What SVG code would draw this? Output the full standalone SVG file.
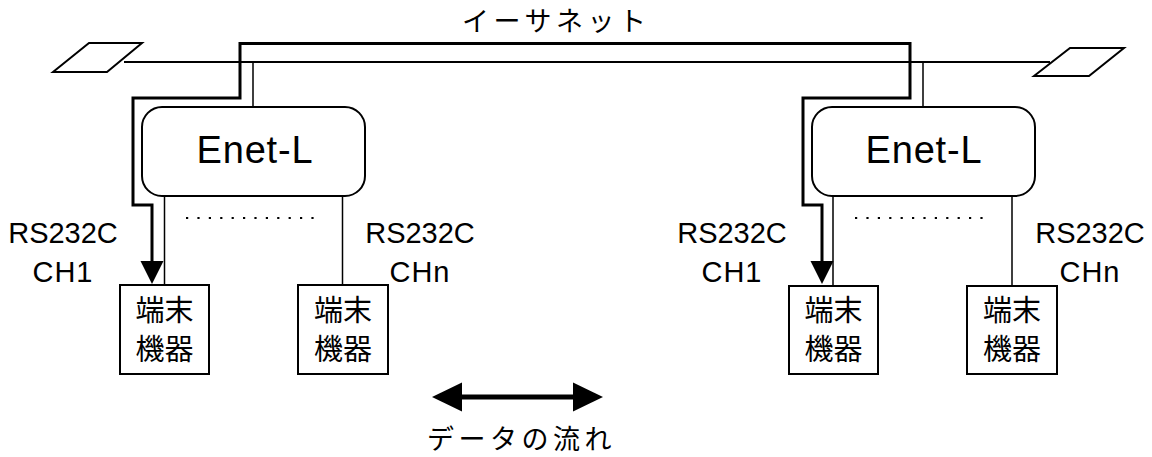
<svg xmlns="http://www.w3.org/2000/svg" width="1152" height="457" viewBox="0 0 1152 457">
<style>
.thin{fill:none;stroke:#000;stroke-width:1.5}
.net{fill:none;stroke:#000;stroke-width:2}
.thick{fill:none;stroke:#000;stroke-width:3;stroke-linejoin:miter}
.box{fill:#fff;stroke:#000;stroke-width:2}
.dots{fill:none;stroke:#000;stroke-width:2.2;stroke-dasharray:2.2 9.2}
.lat{font-family:"Liberation Sans",Arial,sans-serif;fill:#000}
.jp{font-family:"Noto Sans CJK JP","Noto Sans",sans-serif;fill:#000}
.term{font-size:29px;text-anchor:middle}
.head{fill:#000}
</style>
<rect width="1152" height="457" fill="#fff"/>
<g id="connectors">
<path class="net" d="M124,62 H1050"/>
<path class="thin" d="M253,62 V107 M923,62 V107"/>
<path class="thin" d="M164.5,196 V285 M342.5,196 V285 M833,196 V285 M1012,196 V285"/>
<path class="dots" d="M186,218 H318"/>
<path class="dots" d="M855,218 H987"/>
<path class="thick" d="M152,263 V205 H133 V98 H240 V43.5 H910 V98 H803 V205 H822 V263"/>
<path class="head" d="M152,284 L140.5,261 L163.5,261 Z"/>
<path class="head" d="M822,284 L810.5,261 L833.5,261 Z"/>
<path d="M456,397 H579" stroke="#000" stroke-width="5"/>
<path class="head" d="M432,397 L462,382.5 L462,411.5 Z"/>
<path class="head" d="M603,397 L573,382.5 L573,411.5 Z"/>
</g>
<g id="ether-left"><path class="net" fill="#fff" d="M53,72 L89,43 L142,43 L107,72 Z"/></g>
<g id="ether-right"><path class="net" fill="#fff" d="M1034,76 L1070,48 L1124,48 L1089,76 Z"/></g>
<g id="label-ethernet"><text class="jp" x="462" y="31" font-size="27" letter-spacing="4.5">イーサネット</text></g>
<g id="enet-left">
<rect class="box" x="142" y="107" width="223" height="89" rx="20"/>
<text class="lat" x="255" y="163" font-size="38" text-anchor="middle" letter-spacing="0.8">Enet-L</text>
</g>
<g id="enet-right">
<rect class="box" x="812" y="107" width="223" height="89" rx="20"/>
<text class="lat" x="924" y="163" font-size="38" text-anchor="middle" letter-spacing="0.8">Enet-L</text>
</g>
<g id="labels-ch" class="lat" font-size="29" text-anchor="middle">
<text x="63" y="243">RS232C</text><text x="63" y="282" letter-spacing="1">CH1</text>
<text x="420" y="243">RS232C</text><text x="420" y="282" letter-spacing="1">CHn</text>
<text x="732" y="243">RS232C</text><text x="732" y="282" letter-spacing="1">CH1</text>
<text x="1090" y="243">RS232C</text><text x="1090" y="282" letter-spacing="1">CHn</text>
</g>
<g id="term-l1"><rect class="box" x="120" y="285" width="89" height="89"/><text class="jp term" x="164.5" y="321">端末<tspan x="164.5" dy="39">機器</tspan></text></g>
<g id="term-ln"><rect class="box" x="298" y="285" width="90" height="89"/><text class="jp term" x="343" y="321">端末<tspan x="343" dy="39">機器</tspan></text></g>
<g id="term-r1"><rect class="box" x="789" y="286" width="89" height="88"/><text class="jp term" x="833.5" y="321">端末<tspan x="833.5" dy="39">機器</tspan></text></g>
<g id="term-rn"><rect class="box" x="967" y="286" width="90" height="88"/><text class="jp term" x="1012" y="321">端末<tspan x="1012" dy="39">機器</tspan></text></g>
<g id="label-flow"><text class="jp" x="427" y="449" font-size="27" letter-spacing="4.5">データの流れ</text></g>
</svg>
